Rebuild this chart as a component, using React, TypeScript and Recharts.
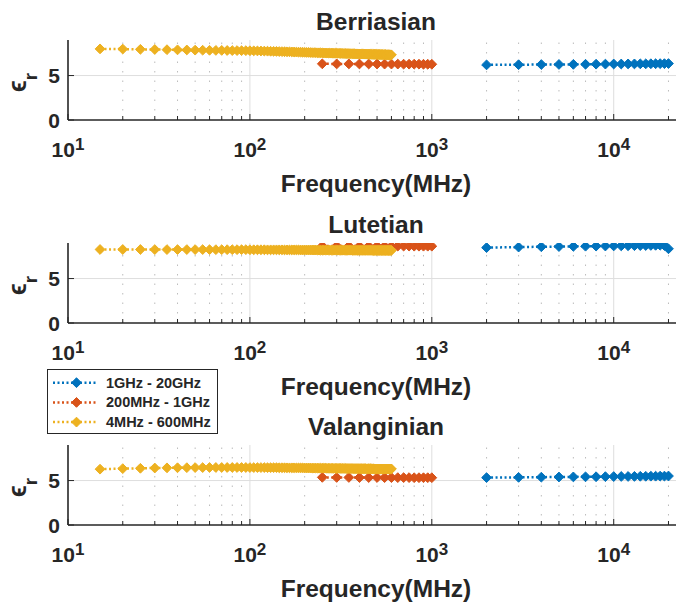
import React from "react";
import { LineChart, Line, XAxis, YAxis, ReferenceLine } from "recharts";

// frequencies (MHz) of each measurement band
const freqHigh = [
  2000, 3000, 4000, 5000, 6000, 7000, 8000, 9000, 10000, 11000, 12000, 13000,
  14000, 15000, 16000, 17000, 18000, 19000, 20000,
];
const freqMid = [
  250, 300, 350, 400, 450, 500, 550, 600, 650, 700, 750, 800, 850, 900, 950, 1000,
];
const freqLow = [
  15, 20, 25, 30, 35, 40, 45, 50, 55, 60, 65, 70, 75, 80, 85, 90, 95,
  100, 105, 110, 115, 120, 125, 130, 135, 140, 145,
  150, 155, 160, 165, 170, 175, 180, 185, 190, 195,
  200, 205, 210, 215, 220, 225, 230, 235, 240, 245,
  250, 255, 260, 265, 270, 275, 280, 285, 290, 295,
  300, 305, 310, 315, 320, 325, 330, 335, 340, 345,
  350, 355, 360, 365, 370, 375, 380, 385, 390, 395,
  400, 405, 410, 415, 420, 425, 430, 435, 440, 445,
  450, 455, 460, 465, 470, 475, 480, 485, 490, 495,
  500, 505, 510, 515, 520, 525, 530, 535, 540, 545,
  550, 555, 560, 565, 570, 575, 580, 585, 590, 595,
  600,
];

// Berriasian
const berriasianHigh = [
  6.2, 6.22, 6.24, 6.25, 6.26, 6.27, 6.28, 6.29, 6.3, 6.3, 6.31, 6.31, 6.32,
  6.32, 6.33, 6.33, 6.34, 6.34, 6.35,
];
const berriasianMid = [
  6.32, 6.31, 6.31, 6.3, 6.3, 6.3, 6.29, 6.29, 6.29, 6.28, 6.28, 6.28, 6.28,
  6.27, 6.27, 6.27,
];
const berriasianLow = [
  8.0, 7.98, 7.95, 7.93, 7.91, 7.89, 7.88, 7.86, 7.85, 7.84, 7.83, 7.83, 7.82, 7.81, 7.81, 7.8, 7.8,
  7.79, 7.78, 7.77, 7.76, 7.75, 7.74, 7.73, 7.72, 7.71, 7.7,
  7.69, 7.68, 7.67, 7.67, 7.66, 7.65, 7.64, 7.63, 7.63, 7.62,
  7.61, 7.6, 7.6, 7.59, 7.58, 7.58, 7.57, 7.56, 7.56, 7.55,
  7.55, 7.54, 7.54, 7.53, 7.53, 7.52, 7.52, 7.51, 7.51, 7.51,
  7.51, 7.5, 7.5, 7.49, 7.49, 7.48, 7.48, 7.48, 7.47, 7.47,
  7.47, 7.46, 7.46, 7.45, 7.45, 7.45, 7.44, 7.44, 7.44, 7.43,
  7.43, 7.43, 7.42, 7.42, 7.42, 7.41, 7.41, 7.41, 7.4, 7.4,
  7.4, 7.4, 7.39, 7.39, 7.39, 7.39, 7.38, 7.38, 7.38, 7.38,
  7.38, 7.37, 7.37, 7.37, 7.37, 7.36, 7.36, 7.36, 7.36, 7.35,
  7.35, 7.35, 7.35, 7.34, 7.34, 7.34, 7.34, 7.34, 7.33, 7.33,
  7.33,
];

// Lutetian
const lutetianHigh = [
  8.48, 8.54, 8.58, 8.6, 8.62, 8.64, 8.65, 8.66, 8.67, 8.68, 8.69, 8.7, 8.71,
  8.72, 8.73, 8.74, 8.75, 8.72, 8.35,
];
const lutetianMid = [
  8.66, 8.66, 8.66, 8.65, 8.65, 8.65, 8.65, 8.65, 8.65, 8.65, 8.65, 8.64, 8.64,
  8.64, 8.64, 8.64,
];
const lutetianLow = [
  8.27, 8.27, 8.27, 8.26, 8.26, 8.26, 8.26, 8.26, 8.26, 8.25, 8.25, 8.25, 8.25, 8.25, 8.25, 8.25, 8.25,
  8.24, 8.24, 8.24, 8.24, 8.24, 8.23, 8.23, 8.23, 8.23, 8.23,
  8.23, 8.22, 8.22, 8.22, 8.22, 8.22, 8.22, 8.22, 8.21, 8.21,
  8.21, 8.21, 8.21, 8.21, 8.21, 8.21, 8.21, 8.2, 8.2, 8.2,
  8.2, 8.2, 8.2, 8.2, 8.2, 8.2, 8.2, 8.19, 8.19, 8.19,
  8.19, 8.19, 8.19, 8.19, 8.19, 8.19, 8.19, 8.19, 8.19, 8.19,
  8.19, 8.19, 8.19, 8.18, 8.18, 8.18, 8.18, 8.18, 8.18, 8.18,
  8.18, 8.18, 8.18, 8.18, 8.18, 8.18, 8.18, 8.18, 8.18, 8.18,
  8.18, 8.18, 8.18, 8.18, 8.17, 8.17, 8.17, 8.17, 8.17, 8.17,
  8.17, 8.17, 8.17, 8.17, 8.17, 8.17, 8.17, 8.17, 8.17, 8.17,
  8.17, 8.17, 8.17, 8.17, 8.17, 8.17, 8.17, 8.17, 8.17, 8.17,
  8.17,
];

// Valanginian
const valanginianHigh = [
  5.33, 5.36, 5.38, 5.4, 5.41, 5.42, 5.43, 5.44, 5.45, 5.46, 5.46, 5.47, 5.48,
  5.48, 5.49, 5.49, 5.5, 5.5, 5.51,
];
const valanginianMid = [
  5.36, 5.35, 5.35, 5.34, 5.34, 5.34, 5.33, 5.33, 5.33, 5.33, 5.33, 5.32, 5.32,
  5.32, 5.32, 5.32,
];
const valanginianLow = [
  6.28, 6.34, 6.38, 6.41, 6.43, 6.44, 6.45, 6.46, 6.46, 6.47, 6.47, 6.47, 6.47, 6.47, 6.47, 6.47, 6.47,
  6.46, 6.46, 6.46, 6.46, 6.46, 6.45, 6.45, 6.45, 6.45, 6.44,
  6.44, 6.44, 6.43, 6.43, 6.43, 6.43, 6.42, 6.42, 6.42, 6.42,
  6.41, 6.41, 6.41, 6.41, 6.4, 6.4, 6.4, 6.4, 6.39, 6.39,
  6.39, 6.39, 6.39, 6.38, 6.38, 6.38, 6.38, 6.38, 6.37, 6.37,
  6.37, 6.37, 6.37, 6.36, 6.36, 6.36, 6.36, 6.36, 6.35, 6.35,
  6.35, 6.35, 6.35, 6.35, 6.34, 6.34, 6.34, 6.34, 6.34, 6.34,
  6.34, 6.33, 6.33, 6.33, 6.33, 6.33, 6.33, 6.33, 6.32, 6.32,
  6.32, 6.32, 6.32, 6.32, 6.32, 6.32, 6.32, 6.31, 6.31, 6.31,
  6.31, 6.31, 6.31, 6.31, 6.31, 6.31, 6.31, 6.31, 6.31, 6.31,
  6.31, 6.31, 6.31, 6.31, 6.31, 6.31, 6.31, 6.31, 6.31, 6.31,
  6.31,
];

const seriesNames = ["1GHz - 20GHz", "200MHz - 1GHz", "4MHz - 600MHz"];
const seriesColors = ["#0072BD", "#D95319", "#EDB120"];

const majorTicks = [10, 100, 1000, 10000];
const majorExponents = ["1", "2", "3", "4"];
const minorTicks = [
  20, 30, 40, 50, 60, 70, 80, 90, 200, 300, 400, 500, 600, 700, 800, 900, 2000,
  3000, 4000, 5000, 6000, 7000, 8000, 9000, 20000,
];
const yTicks = [0, 5];

const panels = [
  { title: "Berriasian", top: 0, bands: [berriasianHigh, berriasianMid, berriasianLow] },
  { title: "Lutetian", top: 203, bands: [lutetianHigh, lutetianMid, lutetianLow] },
  { title: "Valanginian", top: 405, bands: [valanginianHigh, valanginianMid, valanginianLow] },
];
const bandFreqs = [freqHigh, freqMid, freqLow];

const FONT = '"Liberation Sans", Arial, Helvetica, sans-serif';
const INK = "#262626";
const PLOT_TOP = 40;
const PLOT_H = 80;

function Diamond(props: any) {
  const { cx, cy, color } = props;
  if (cx == null || cy == null) return null;
  const r = 4.9;
  return (
    <polygon
      points={`${cx},${cy - r} ${cx + r},${cy} ${cx},${cy + r} ${cx - r},${cy}`}
      fill={color}
      stroke={color}
      strokeWidth={1}
      strokeLinejoin="round"
    />
  );
}

function XTick(props: any) {
  const { x, y, payload } = props;
  const idx = majorTicks.indexOf(payload.value);
  const major = idx >= 0;
  return (
    <g>
      <line x1={x} y1={y} x2={x} y2={y - (major ? 6 : 4)} stroke={INK} strokeWidth={1} />
      {major && (
        <text
          x={x}
          y={y + 37}
          textAnchor="middle"
          fontFamily={FONT}
          fontWeight="bold"
          fontSize={21}
          fill={INK}
        >
          10
          <tspan dy={-7} fontSize={17}>
            {majorExponents[idx]}
          </tspan>
        </text>
      )}
    </g>
  );
}

function YTick(props: any) {
  const { x, y, payload } = props;
  return (
    <g>
      <line x1={x} y1={y} x2={x + 6} y2={y} stroke={INK} strokeWidth={1} />
      <text
        x={x - 8}
        y={y + 7.5}
        textAnchor="end"
        fontFamily={FONT}
        fontWeight="bold"
        fontSize={21}
        fill={INK}
      >
        {payload.value}
      </text>
    </g>
  );
}

function Panel({ bands }: { bands: number[][] }) {
  return (
    <LineChart width={677} height={200} margin={{ top: PLOT_TOP, right: 1, bottom: 0, left: 0 }}>
      <XAxis
        type="number"
        dataKey="f"
        scale="log"
        domain={[10, 22000]}
        allowDataOverflow
        ticks={[...majorTicks, ...minorTicks]}
        interval={0}
        tick={<XTick />}
        tickLine={false}
        tickSize={0}
        tickMargin={0}
        height={200 - PLOT_TOP - PLOT_H}
        axisLine={{ stroke: INK, strokeWidth: 1.6 }}
      />
      <YAxis
        type="number"
        domain={[0, 9]}
        allowDataOverflow
        ticks={yTicks}
        interval={0}
        tick={<YTick />}
        tickLine={false}
        tickSize={0}
        tickMargin={0}
        width={68}
        axisLine={{ stroke: INK, strokeWidth: 1.6 }}
      />
      <ReferenceLine y={5} stroke="#dedede" strokeWidth={1} />
      {majorTicks.slice(1).map((v) => (
        <ReferenceLine key={`M${v}`} x={v} stroke="#dedede" strokeWidth={1} />
      ))}
      {minorTicks.map((v) => (
        <ReferenceLine
          key={`m${v}`}
          x={v}
          stroke="#bcbcbc"
          strokeWidth={1}
          strokeDasharray="1.5 8"
        />
      ))}
      {bands.map((vals, s) => (
        <Line
          key={seriesNames[s]}
          name={seriesNames[s]}
          data={bandFreqs[s].map((f, i) => ({ f, v: vals[i] }))}
          dataKey="v"
          type="linear"
          stroke={seriesColors[s]}
          strokeWidth={2.5}
          strokeDasharray="2 2.5"
          dot={(p: any) => <Diamond key={`d${s}-${p.index}`} cx={p.cx} cy={p.cy} color={seriesColors[s]} />}
          activeDot={false}
          isAnimationActive={false}
        />
      ))}
    </LineChart>
  );
}

function Overlay() {
  const cx = 376;
  return (
    <svg
      width={677}
      height={605}
      style={{ position: "absolute", left: 0, top: 0, pointerEvents: "none" }}
    >
      {panels.map((p) => (
        <g key={p.title} fontFamily={FONT} fontWeight="bold" fill={INK}>
          <text x={cx} y={p.top + 30} textAnchor="middle" fontSize={24.5}>
            {p.title}
          </text>
          <text x={cx} y={p.top + 192} textAnchor="middle" fontSize={24.5}>
            Frequency(MHz)
          </text>
          <text
            x={26}
            y={p.top + 82.5}
            transform={`rotate(-90 26 ${p.top + 82.5})`}
            textAnchor="middle"
            fontSize={25}
          >
            ϵ
            <tspan dy={11} fontSize={19}>
              r
            </tspan>
          </text>
        </g>
      ))}
      <g fontFamily={FONT} fontWeight="bold" fill={INK}>
        <rect x={47.5} y={369.5} width={170} height={64} fill="#fff" stroke={INK} strokeWidth={1} />
        {seriesNames.map((name, i) => {
          const y = 382.7 + i * 19.7;
          return (
            <g key={name}>
              <line
                x1={53}
                y1={y}
                x2={98}
                y2={y}
                stroke={seriesColors[i]}
                strokeWidth={2.5}
                strokeDasharray="2 2.5"
              />
              <Diamond cx={76.5} cy={y} color={seriesColors[i]} />
              <text x={106} y={y + 5} fontSize={14.5}>
                {name}
              </text>
            </g>
          );
        })}
      </g>
    </svg>
  );
}

export default function App() {
  return (
    <div
      style={{
        position: "absolute",
        left: 0,
        top: 0,
        width: 677,
        height: 605,
        background: "#fff",
        overflow: "hidden",
      }}
    >
      {panels.map((p) => (
        <div key={p.title} style={{ position: "absolute", left: 0, top: p.top }}>
          <Panel bands={p.bands} />
        </div>
      ))}
      <Overlay />
    </div>
  );
}
